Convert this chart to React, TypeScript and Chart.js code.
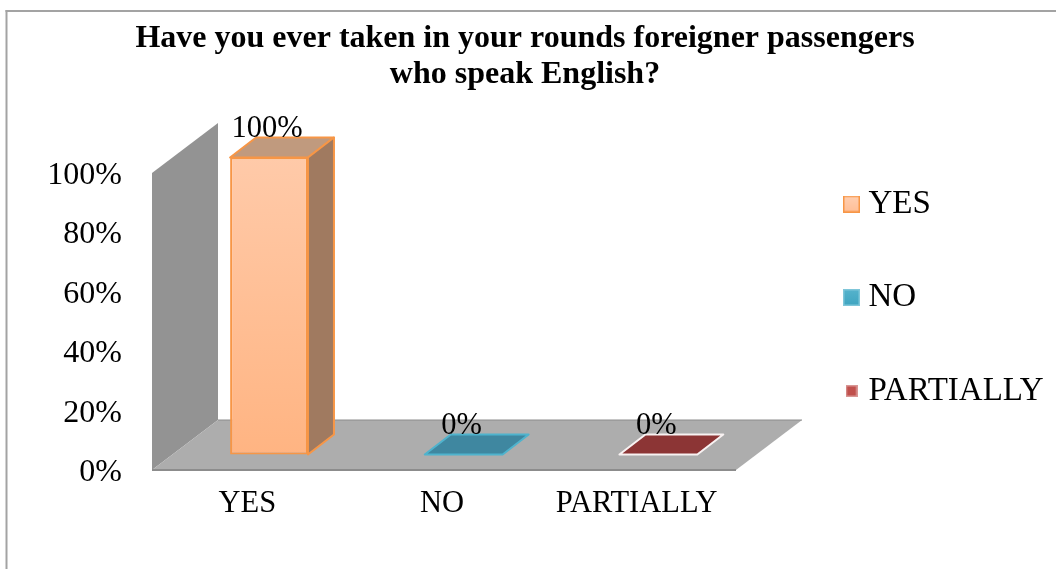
import React, { useEffect, useRef } from "react";
import { Chart, registerables } from "chart.js";

Chart.register(...registerables);

const categories = ["YES", "NO", "PARTIALLY"];
const yesValues = [100, null, null];
const noValues = [null, 0, null];
const partiallyValues = [null, null, 0];
const yTicks = [0, 20, 40, 60, 80, 100];

const SERIF = "'Liberation Serif', 'Times New Roman', serif";

// Projection of the 3D box: how far the back wall and the bars sit from the front plane.
const WALL_DX = 66;
const WALL_DY = -50;
const BAR_DX = 19.7;
const BAR_DY = -15.5;
const DEPTH_DX = 26;
const DEPTH_DY = -20;

const faces = [
  { top: "#ffcaa9", bottom: "#ffb482", border: "#f79646", cap: "#c09a7e", capEdge: "#f79646", side: "#a07a60" },
  { top: "#4bacc6", bottom: "#4bacc6", border: "#4bacc6", cap: "#3f87a0", capEdge: "#4fb3cd", side: "#2f6d80" },
  { top: "#c0504d", bottom: "#c0504d", border: "#f6eeee", cap: "#8c3535", capEdge: "#f8f2f2", side: "#6e2a2a" },
];

function swatch(size: number, top: string, bottom: string, edge: string) {
  const c = document.createElement("canvas");
  c.width = size;
  c.height = size;
  const g = c.getContext("2d")!;
  const fill = g.createLinearGradient(0, 0, 0, size);
  fill.addColorStop(0, top);
  fill.addColorStop(1, bottom);
  g.fillStyle = fill;
  g.fillRect(0, 0, size, size);
  g.strokeStyle = edge;
  g.lineWidth = 1.5;
  g.strokeRect(0.75, 0.75, size - 1.5, size - 1.5);
  return c;
}

function polygon(ctx: CanvasRenderingContext2D, pts: number[][], fill: string) {
  ctx.beginPath();
  pts.forEach(([x, y], i) => (i ? ctx.lineTo(x, y) : ctx.moveTo(x, y)));
  ctx.closePath();
  ctx.fillStyle = fill;
  ctx.fill();
}

const frame3d = {
  id: "frame3d",
  beforeLayout(chart: any) {
    // Reserve a fixed strip for the legend so the plot keeps its proportions.
    const legend = chart.legend;
    if (legend && !legend.$fixedFit) {
      const fit = legend.fit;
      legend.fit = function () {
        fit.call(this);
        this.width = 314;
      };
      legend.$fixedFit = true;
    }
  },
  afterLayout(chart: any) {
    const legend = chart.legend;
    const pad = legend.options.labels.padding;
    legend.left = 851 - pad;
    legend.right = legend.left + 300;
    legend.top = 127;
    legend.bottom = 560;
  },
  beforeDraw(chart: any) {
    const { ctx, width, height } = chart;
    ctx.save();
    ctx.fillStyle = "#ffffff";
    ctx.fillRect(0, 0, width, height);
    ctx.fillStyle = "#a3a3a3";
    ctx.fillRect(5.5, 10, width, 2);
    ctx.fillRect(5.5, 10, 2, height);
    ctx.restore();
  },
  beforeDatasetsDraw(chart: any) {
    const { ctx, chartArea: a } = chart;
    const { left: l, right: r, top: t, bottom: b } = a;
    ctx.save();
    polygon(ctx, [[l, t], [l + WALL_DX, t + WALL_DY], [l + WALL_DX, b + WALL_DY], [l, b]], "#939393");
    polygon(ctx, [[l, b], [l + WALL_DX, b + WALL_DY], [r + WALL_DX, b + WALL_DY], [r, b]], "#adadad");
    ctx.strokeStyle = "#8c8c8c";
    ctx.lineWidth = 1;
    ctx.beginPath();
    ctx.moveTo(l + WALL_DX, b + WALL_DY);
    ctx.lineTo(r + WALL_DX, b + WALL_DY);
    ctx.stroke();
    ctx.lineWidth = 2;
    ctx.beginPath();
    ctx.moveTo(l, b);
    ctx.lineTo(r, b);
    ctx.stroke();
    ctx.restore();
  },
  beforeDatasetDraw(chart: any) {
    chart.ctx.save();
    chart.ctx.translate(BAR_DX, BAR_DY);
  },
  afterDatasetDraw(chart: any, args: any) {
    const { ctx } = chart;
    const face = faces[args.index];
    args.meta.data.forEach((bar: any, i: number) => {
      const v = chart.data.datasets[args.index].data[i];
      if (v === null) return;
      const { x, y, base, width: w } = bar.getProps(["x", "y", "base", "width"], true);
      const x0 = x - w / 2;
      const x1 = x + w / 2;
      ctx.lineJoin = "round";
      ctx.lineWidth = 2;
      ctx.strokeStyle = face.capEdge;
      const cap = [[x0, y], [x0 + DEPTH_DX, y + DEPTH_DY], [x1 + DEPTH_DX, y + DEPTH_DY], [x1, y]];
      polygon(ctx, cap, face.cap);
      ctx.stroke();
      if (base - y > 0.5) {
        const side = [[x1, y], [x1 + DEPTH_DX, y + DEPTH_DY], [x1 + DEPTH_DX, base + DEPTH_DY], [x1, base]];
        polygon(ctx, side, face.side);
        ctx.stroke();
      }
    });
    ctx.restore();
  },
  afterDatasetsDraw(chart: any) {
    const { ctx } = chart;
    ctx.save();
    ctx.fillStyle = "#000000";
    ctx.font = `30.5px ${SERIF}`;
    ctx.textAlign = "center";
    ctx.textBaseline = "middle";
    chart.data.datasets.forEach((ds: any, d: number) => {
      chart.getDatasetMeta(d).data.forEach((bar: any, i: number) => {
        if (ds.data[i] === null) return;
        const { x, y } = bar.getProps(["x", "y"], true);
        ctx.fillText(`${ds.data[i]}%`, x + BAR_DX - 2, y + BAR_DY - 28.5);
      });
    });
    ctx.restore();
  },
};

function faceFill(index: number) {
  return (c: any) => {
    const area = c.chart.chartArea;
    if (!area) return faces[index].top;
    const g = c.chart.ctx.createLinearGradient(0, area.top, 0, area.bottom);
    g.addColorStop(0, faces[index].top);
    g.addColorStop(1, faces[index].bottom);
    return g;
  };
}

export default function App() {
  const ref = useRef<HTMLCanvasElement | null>(null);

  useEffect(() => {
    const markers = [
      swatch(17, "#ffcfb2", "#ffbe96", "#f79646"),
      swatch(17, "#56b3cc", "#3ea4c0", "#7fc6d9"),
      swatch(12, "#c0504d", "#c0504d", "#d99694"),
    ];
    const series = [yesValues, noValues, partiallyValues];
    const chart = new Chart(ref.current!, {
      type: "bar",
      data: {
        labels: categories,
        datasets: categories.map((label, i) => ({
          label,
          data: series[i],
          backgroundColor: faceFill(i),
          borderColor: faces[i].border,
          borderWidth: 2,
          borderSkipped: false,
          barPercentage: 0.4,
          categoryPercentage: 1,
          clip: false,
        })),
      },
      options: {
        responsive: false,
        animation: false,
        events: [],
        layout: { padding: { left: 0, right: 6, top: 0, bottom: 0 } },
        scales: {
          x: {
            stacked: true,
            border: { display: false },
            grid: { display: false },
            afterFit: (s: any) => {
              s.height = 99;
            },
            ticks: {
              color: "#000000",
              font: { family: SERIF, size: 30.5 },
              padding: 8,
              labelOffset: -2,
              maxRotation: 0,
              autoSkip: false,
            },
          },
          y: {
            stacked: true,
            min: yTicks[0],
            max: yTicks[yTicks.length - 1],
            border: { display: false },
            grid: { display: false },
            afterFit: (s: any) => {
              s.width = 152;
            },
            afterBuildTicks: (s: any) => {
              s.ticks = yTicks.map((value) => ({ value }));
            },
            ticks: {
              color: "#000000",
              font: { family: SERIF, size: 32 },
              padding: 22,
              labelOffset: 2.5,
              callback: (v: any) => `${v}%`,
            },
          },
        },
        plugins: {
          title: {
            display: true,
            text: [
              "Have you ever taken in your rounds foreigner passengers",
              "who speak English?",
            ],
            color: "#000000",
            font: { family: SERIF, size: 32, weight: "bold", lineHeight: 1.125 },
            padding: { top: 21, bottom: 80 },
          },
          legend: {
            display: true,
            position: "right",
            align: "start",
            labels: {
              color: "#000000",
              font: { family: SERIF, size: 33 },
              usePointStyle: true,
              boxWidth: 1,
              boxHeight: 1,
              padding: 60.5,
              generateLabels: () =>
                categories.map((text, i) => ({
                  text,
                  pointStyle: markers[i],
                  fontColor: "#000000",
                  lineWidth: 0,
                  datasetIndex: i,
                })),
            },
          },
          tooltip: { enabled: false },
        },
      },
      plugins: [frame3d],
    } as any);
    return () => chart.destroy();
  }, []);

  return (
    <div style={{ position: "fixed", left: 0, top: 0, width: 1056, height: 569, overflow: "hidden", background: "#fff" }}>
      <canvas ref={ref} width={1056} height={569} style={{ display: "block" }} />
    </div>
  );
}
